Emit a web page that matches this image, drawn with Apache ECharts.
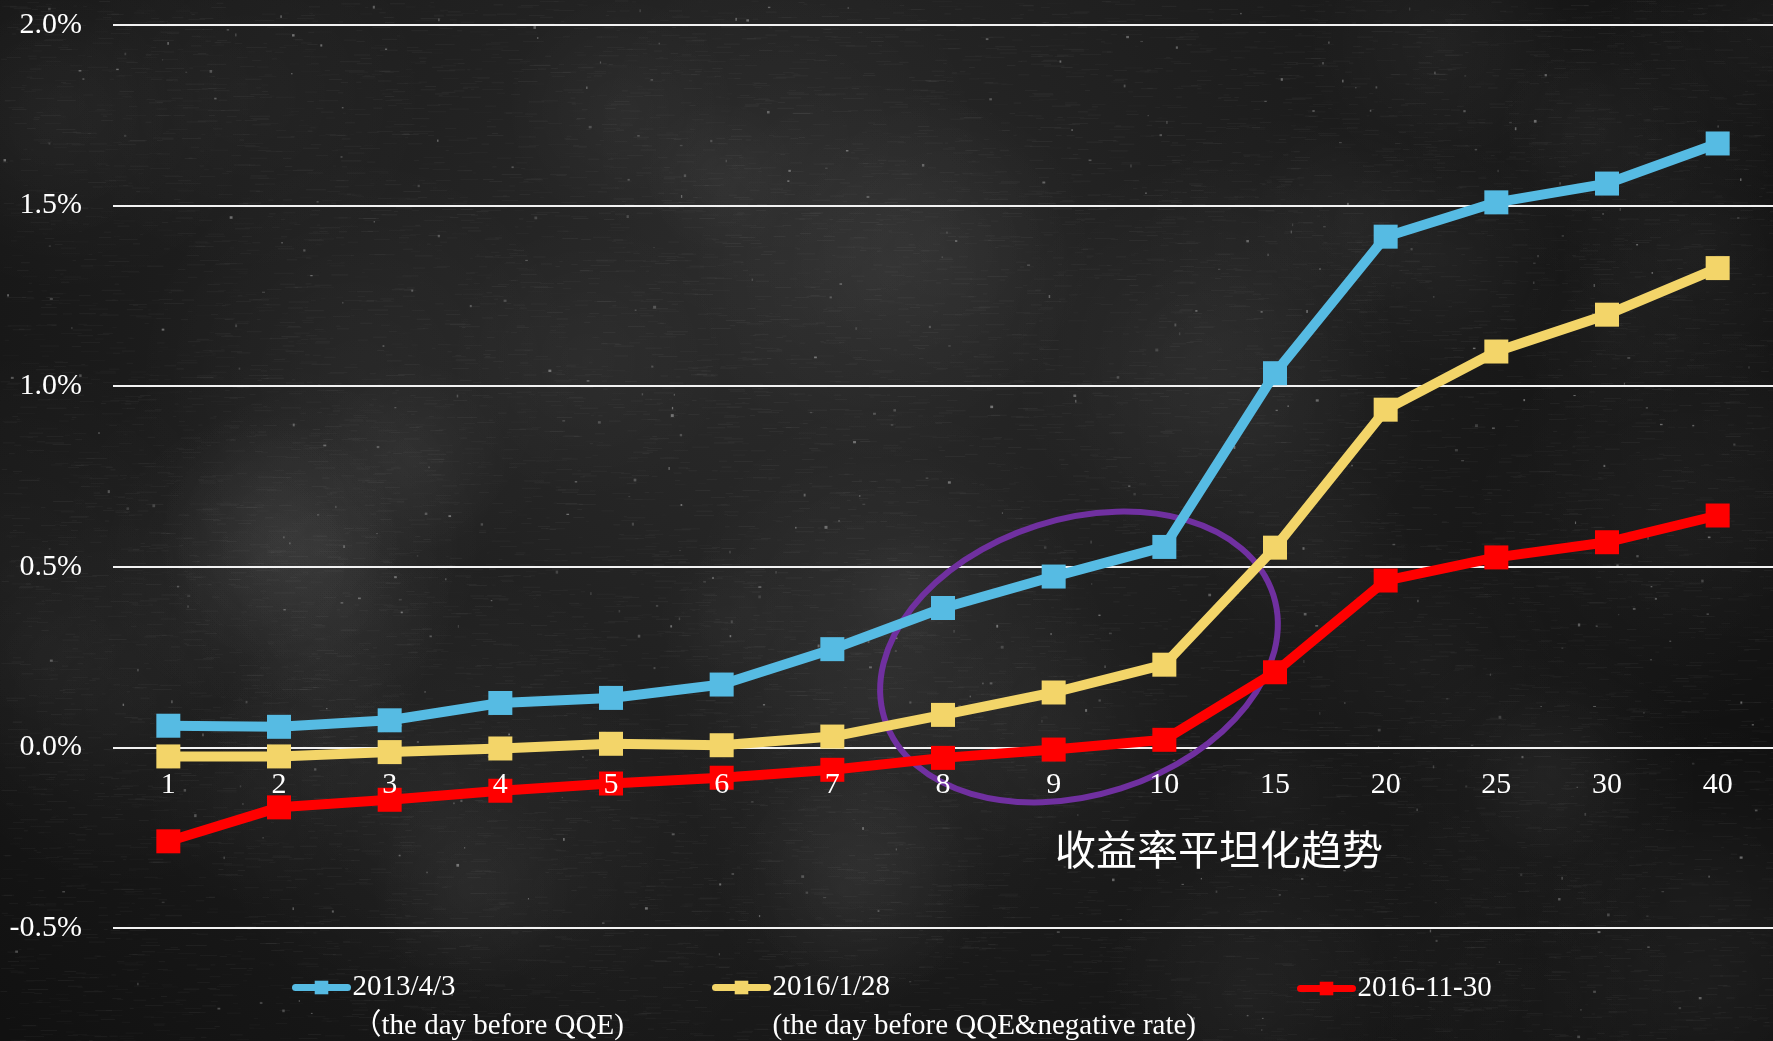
<!DOCTYPE html>
<html>
<head>
<meta charset="utf-8">
<title>日本国债收益率曲线</title>
<script src="https://cdn.jsdelivr.net/npm/echarts@6/dist/echarts.min.js"></script>
<style>
  html, body { margin: 0; padding: 0; background: #151515; }
  #chart { width: 1773px; height: 1041px; }
</style>
</head>
<body>
<div id="chart"></div>
<script>
// Maturities (years)
const maturities = ['1', '2', '3', '4', '5', '6', '7', '8', '9', '10', '15', '20', '25', '30', '40'];

// Yields in percent
const yields20130403 = [0.060, 0.057, 0.075, 0.123, 0.137, 0.174, 0.272, 0.386, 0.473, 0.555, 1.036, 1.414, 1.509, 1.561, 1.672];
const yields20160128 = [-0.025, -0.025, -0.013, -0.003, 0.010, 0.006, 0.030, 0.090, 0.152, 0.229, 0.553, 0.935, 1.096, 1.198, 1.327];
const yields20161130 = [-0.260, -0.166, -0.145, -0.120, -0.100, -0.084, -0.062, -0.029, -0.006, 0.021, 0.208, 0.462, 0.526, 0.568, 0.642];

const seriesNames = ['2013/4/3', '2016/1/28', '2016-11-30'];
const seriesNotes = ['（the day before QQE)', '(the day before QQE&negative rate)', ''];
const seriesColors = ['#56BBE3', '#F3D569', '#FF0000'];

const yMin = -0.5, yMax = 2.0, yStep = 0.5;
const annotation = '收益率平坦化趋势';

// Plot area
const gridTop = 25, gridBottom = 113, gridLeft = 113, gridRight = -3;
const chartHeight = 1041;
const plotHeight = chartHeight - gridTop - gridBottom;
// Category axis sits on the 0% line
const xAxisOffset = -plotHeight * (0 - yMin) / (yMax - yMin);

// Chalkboard texture painted onto the page background
(function paintBoard() {
  const w = 1773, h = 1041;
  const c = document.createElement('canvas');
  c.width = w; c.height = h;
  const g = c.getContext('2d');
  let s = 20161130;
  const rnd = () => {
    s |= 0; s = s + 0x6D2B79F5 | 0;
    let t = Math.imul(s ^ s >>> 15, 1 | s);
    t = t + Math.imul(t ^ t >>> 7, 61 | t) ^ t;
    return ((t ^ t >>> 14) >>> 0) / 4294967296;
  };
  g.fillStyle = '#111111';
  g.fillRect(0, 0, w, h);
  const rg = g.createRadialGradient(760, 300, 40, 760, 300, 1050);
  rg.addColorStop(0, 'rgba(62,62,62,0.55)');
  rg.addColorStop(1, 'rgba(62,62,62,0)');
  g.fillStyle = rg;
  g.fillRect(0, 0, w, h);
  // soft chalk smudges
  for (let i = 0; i < 60; i++) {
    const x = rnd() * w, y = rnd() * h, r = 60 + rnd() * 180;
    const sg = g.createRadialGradient(x, y, 0, x, y, r);
    sg.addColorStop(0, 'rgba(255,255,255,' + (0.015 + rnd() * 0.03).toFixed(3) + ')');
    sg.addColorStop(1, 'rgba(255,255,255,0)');
    g.fillStyle = sg;
    g.fillRect(x - r, y - r, 2 * r, 2 * r);
  }
  // fine horizontal grain
  for (let i = 0; i < 14000; i++) {
    const x = rnd() * w, y = rnd() * h;
    const len = 3 + rnd() * 18;
    g.fillStyle = 'rgba(255,255,255,' + (0.015 + rnd() * 0.035).toFixed(3) + ')';
    g.fillRect(x, y, len, 1);
  }
  // chalk dust specks
  for (let i = 0; i < 450; i++) {
    const x = rnd() * w, y = rnd() * h;
    g.fillStyle = 'rgba(255,255,255,' + (0.12 + rnd() * 0.25).toFixed(3) + ')';
    g.fillRect(x, y, 1 + rnd() * 2, 1 + rnd() * 2);
  }
  document.getElementById('chart').style.background = 'url(' + c.toDataURL() + ')';
})();

const chart = echarts.init(document.getElementById('chart'), null, { renderer: 'canvas' });

const serifFont = '"Liberation Serif", "Times New Roman", "Noto Sans CJK SC", serif';

function makeSeries(name, data, color) {
  return {
    name: name,
    type: 'line',
    data: data,
    symbol: 'rect',
    symbolSize: 24,
    showSymbol: true,
    lineStyle: { color: color, width: 10 },
    itemStyle: { color: color },
    emphasis: { disabled: true },
    z: 2
  };
}

function makeLegend(idx, left, top) {
  return {
    data: [seriesNames[idx]],
    left: left,
    top: top,
    padding: 0,
    itemWidth: 52,
    itemHeight: 17,
    selectedMode: false,
    formatter: function (name) {
      const note = seriesNotes[idx];
      return note ? '\n' + name + '\n' + note : name;
    },
    textStyle: {
      color: '#ffffff',
      fontFamily: serifFont,
      fontSize: 29,
      lineHeight: 39
    },
    lineStyle: { width: 7, cap: 'round' }
  };
}

chart.setOption({
  backgroundColor: 'transparent',
  animation: false,
  grid: { left: gridLeft, right: gridRight, top: gridTop, bottom: gridBottom, containLabel: false },
  xAxis: {
    type: 'category',
    data: maturities,
    boundaryGap: true,
    position: 'bottom',
    offset: xAxisOffset,
    z: 5,
    axisLine: { show: false, onZero: false },
    axisTick: { show: false },
    axisLabel: {
      color: '#ffffff',
      fontFamily: serifFont,
      fontSize: 30,
      margin: 23
    },
    splitLine: { show: false }
  },
  yAxis: {
    type: 'value',
    min: yMin,
    max: yMax,
    interval: yStep,
    axisLine: { show: false },
    axisTick: { show: false },
    axisLabel: {
      color: '#ffffff',
      fontFamily: serifFont,
      fontSize: 30,
      margin: 31,
      formatter: function (v) { return v.toFixed(1) + '%'; }
    },
    splitLine: { show: true, lineStyle: { color: '#f2f2f2', width: 2 } }
  },
  legend: [
    makeLegend(0, 292, 929),
    makeLegend(1, 712, 929),
    makeLegend(2, 1297, 969)
  ],
  series: [
    makeSeries(seriesNames[0], yields20130403, seriesColors[0]),
    makeSeries(seriesNames[1], yields20160128, seriesColors[1]),
    makeSeries(seriesNames[2], yields20161130, seriesColors[2])
  ],
  graphic: [
    {
      type: 'ellipse',
      x: 1079,
      y: 657,
      rotation: 0.309,
      z: 1,
      silent: true,
      shape: { cx: 0, cy: 0, rx: 204, ry: 138 },
      style: { fill: 'none', stroke: '#7030A0', lineWidth: 6 }
    },
    {
      type: 'text',
      x: 1219,
      y: 849,
      z: 10,
      silent: true,
      style: {
        text: annotation,
        fill: '#ffffff',
        font: '41px "Noto Sans CJK SC", sans-serif',
        textAlign: 'center',
        textVerticalAlign: 'middle'
      }
    }
  ]
});
</script>
</body>
</html>
